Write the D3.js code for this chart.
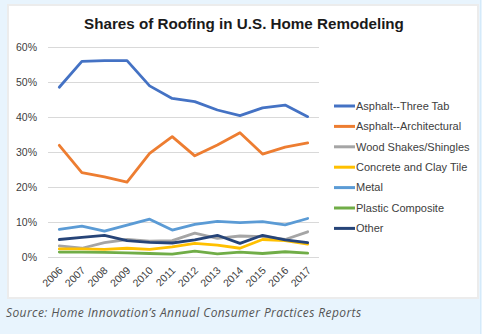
<!DOCTYPE html>
<html>
<head>
<meta charset="utf-8">
<script src="https://cdn.jsdelivr.net/npm/d3@7"></script>
<style>
  html, body { margin: 0; padding: 0; background: #e8f4fd; }
  svg { display: block; }
</style>
</head>
<body>
<svg id="chart" width="482" height="334"></svg>
<script>
const years = ['2006', '2007', '2008', '2009', '2010', '2011', '2012', '2013', '2014', '2015', '2016', '2017'];
const yTicks = [0, 0.1, 0.2, 0.3, 0.4, 0.5, 0.6];

const seriesNames = [
  'Asphalt--Three Tab',
  'Asphalt--Architectural',
  'Wood Shakes/Shingles',
  'Concrete and Clay Tile',
  'Metal',
  'Plastic Composite',
  'Other'
];
const seriesColors = ['#4472c4', '#ed7d31', '#a5a5a5', '#ffc000', '#5b9bd5', '#70ad47', '#264478'];

// shares per year, in percent
const threeTab      = [48.5, 55.9, 56.1, 56.1, 48.9, 45.3, 44.4, 42.0, 40.4, 42.6, 43.4, 40.1];
const architectural = [31.9, 24.1, 22.9, 21.4, 29.6, 34.4, 28.9, 32.0, 35.5, 29.4, 31.4, 32.6];
const woodShakes    = [3.2, 2.5, 4.1, 5.0, 4.5, 4.7, 6.8, 5.3, 6.0, 5.8, 5.0, 7.2];
const concreteClay  = [2.3, 2.3, 2.2, 2.5, 2.2, 2.9, 3.9, 3.4, 2.5, 5.0, 4.7, 3.7];
const metal         = [7.9, 8.8, 7.4, 9.1, 10.8, 7.7, 9.3, 10.2, 9.8, 10.1, 9.2, 11.0];
const plastic       = [1.4, 1.4, 1.3, 1.2, 1.0, 0.8, 1.7, 0.9, 1.4, 1.0, 1.5, 1.1];
const other         = [5.0, 5.6, 6.2, 4.7, 4.2, 4.0, 4.9, 6.2, 3.9, 6.2, 4.9, 4.1];

const seriesValues = [threeTab, architectural, woodShakes, concreteClay, metal, plastic, other];

const svg = d3.select('#chart');

// white chart panel
svg.append('rect')
  .attr('x', 8).attr('y', 5)
  .attr('width', 470).attr('height', 293)
  .attr('fill', '#fff')
  .attr('stroke', '#ececec')
  .attr('stroke-width', 2);

svg.append('line')
  .attr('x1', 480.5).attr('x2', 480.5)
  .attr('y1', 0).attr('y2', 334)
  .attr('stroke', '#d4eafa');

svg.append('text')
  .attr('x', 244).attr('y', 29)
  .attr('text-anchor', 'middle')
  .attr('font-family', 'Liberation Sans, Arial, sans-serif')
  .attr('font-weight', 'bold')
  .attr('font-size', 15.2)
  .attr('fill', '#1a1a1a')
  .text('Shares of Roofing in U.S. Home Remodeling');

const plotLeft = 48, plotRight = 319, plotTop = 47, plotBottom = 257;

const x = d3.scaleBand().domain(years).range([plotLeft, plotRight]);
const y = d3.scaleLinear().domain([0, 0.6]).range([plotBottom, plotTop]);

const yAxis = svg.append('g')
  .attr('transform', `translate(${plotLeft},0)`)
  .call(d3.axisLeft(y)
    .tickValues(yTicks)
    .tickFormat(d3.format('.0%'))
    .tickSize(-(plotRight - plotLeft))
    .tickPadding(11));
yAxis.select('.domain').remove();
yAxis.selectAll('line').attr('stroke', '#d9d9d9');
yAxis.selectAll('text')
  .attr('font-family', 'Liberation Sans, Arial, sans-serif')
  .attr('font-size', 10.5)
  .attr('fill', '#404040');

const xAxis = svg.append('g')
  .attr('transform', `translate(0,${plotBottom})`)
  .call(d3.axisBottom(x).tickSize(0).tickPadding(0));
xAxis.select('.domain').remove();
xAxis.selectAll('text')
  .attr('font-family', 'Liberation Sans, Arial, sans-serif')
  .attr('font-size', 10.5)
  .attr('fill', '#404040')
  .attr('y', 0).attr('dy', 0)
  .attr('text-anchor', 'end')
  .attr('transform', 'translate(4,14) rotate(-45)');

const line = d3.line()
  .x((d, i) => x(years[i]) + x.bandwidth() / 2)
  .y(d => y(d / 100));

svg.append('g')
  .attr('fill', 'none')
  .attr('stroke-width', 2.8)
  .attr('stroke-linejoin', 'round')
  .attr('stroke-linecap', 'round')
  .selectAll('path')
  .data(seriesValues)
  .join('path')
    .attr('stroke', (d, i) => seriesColors[i])
    .attr('d', line);

const legend = svg.append('g')
  .attr('transform', 'translate(334,106)')
  .selectAll('g')
  .data(seriesNames)
  .join('g')
    .attr('transform', (d, i) => `translate(0,${i * 20.4})`);

legend.append('line')
  .attr('x1', 0).attr('x2', 21)
  .attr('stroke', (d, i) => seriesColors[i])
  .attr('stroke-width', 3);

legend.append('text')
  .attr('x', 22)
  .attr('dy', '0.35em')
  .attr('font-family', 'Liberation Sans, Arial, sans-serif')
  .attr('font-size', 11)
  .attr('fill', '#404040')
  .text(d => d);

svg.append('text')
  .attr('x', 6).attr('y', 317)
  .attr('font-family', 'Open Sans, sans-serif')
  .attr('font-style', 'italic')
  .attr('font-size', 12)
  .attr('letter-spacing', 0.4)
  .attr('fill', '#555')
  .text('Source: Home Innovation\u2019s Annual Consumer Practices Reports');
</script>
</body>
</html>
